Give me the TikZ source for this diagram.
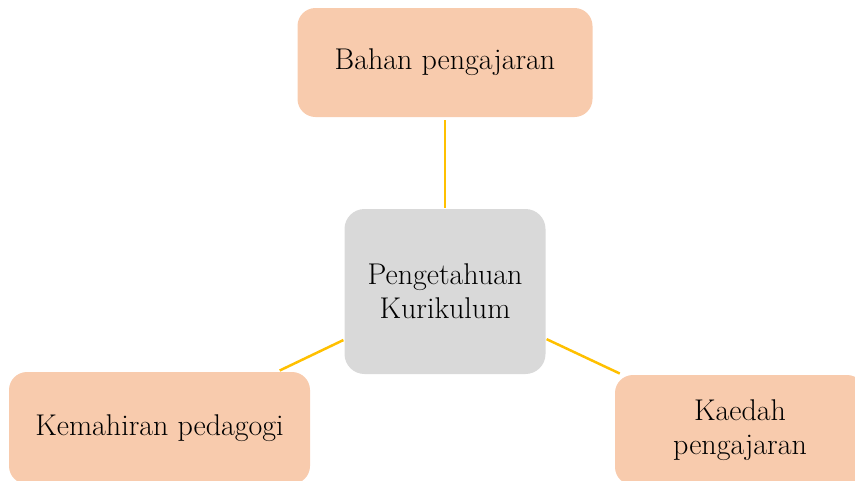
\documentclass[tikz,border=0pt]{standalone}
\definecolor{peach}{HTML}{F8CBAD}
\definecolor{greybox}{HTML}{D9D9D9}
\definecolor{gold}{HTML}{FFC000}
\begin{document}
\begin{tikzpicture}[x=1pt,y=-1pt,
  box/.style={rectangle, rounded corners=18pt, draw=none, align=center,
    font=\fontsize{30}{34}\selectfont, inner sep=0pt},
  leaf/.style={box, fill=peach},
  hub/.style={box, fill=greybox, rounded corners=20pt},
  link/.style={draw=gold, line width=2.5pt, shorten <=1pt, shorten >=3pt}]
\useasboundingbox (0,0) rectangle (855,480);
\clip (0,0) rectangle (855,480);
\node[leaf, minimum width=295pt, minimum height=109pt] (t) at (445,62.5) {Bahan pengajaran};
\node[hub, minimum width=201pt, minimum height=165pt] (c) at (445,291.5) {Pengetahuan\\Kurikulum};
\node[leaf, minimum width=301pt, minimum height=112pt] (l) at (159.5,428) {Kemahiran pedagogi};
\node[leaf, minimum width=250pt, minimum height=110pt] (r) at (740,430) {Kaedah\\pengajaran};
\draw[link] (c) -- (t);
\draw[link] (c) -- (l);
\draw[link] (c) -- (r);
\end{tikzpicture}
\end{document}
